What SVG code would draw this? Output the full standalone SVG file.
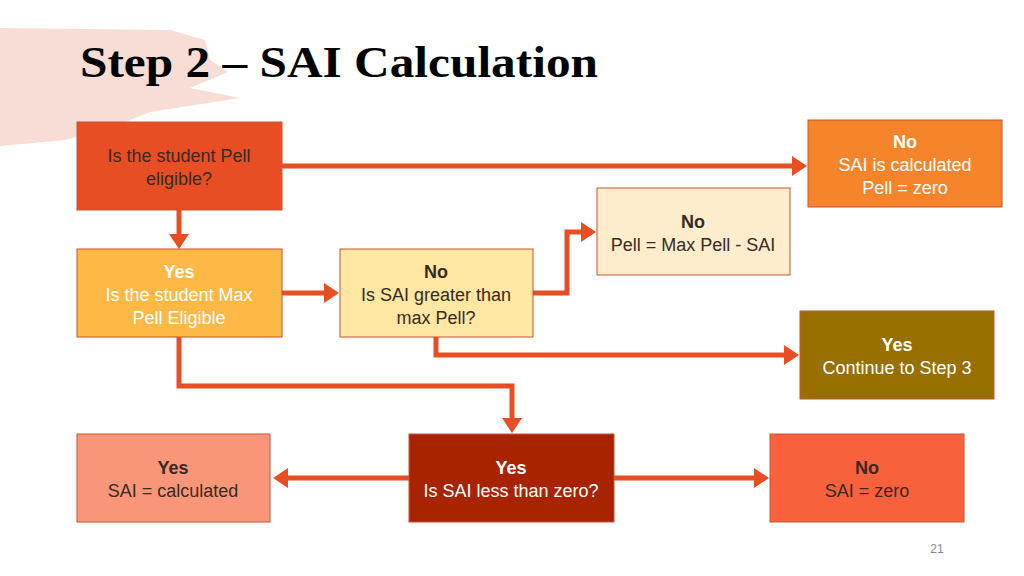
<svg xmlns="http://www.w3.org/2000/svg" width="1024" height="576" viewBox="0 0 1024 576">
<defs>
<marker id="ah" markerWidth="4" markerHeight="4" refX="2.2" refY="2" orient="auto" markerUnits="strokeWidth"><path d="M0,0 L3,2 L0,4 Z" fill="#e84e23"/></marker>
</defs>
<style>
.b{stroke:#c9542e;stroke-width:1}
.t{font-family:"Century Gothic","Liberation Sans",sans-serif;font-size:18px;text-anchor:middle}
.w{fill:#fff}.d{fill:#3a2a20}
.c{fill:none;stroke:#e84e23;stroke-width:5;marker-end:url(#ah)}
</style>
<rect width="1024" height="576" fill="#fff"/>
<path d="M0,28 L170,30 L205,40 L210,60 L228,72 L190,88 L240,98 L150,112 L110,128 L65,140 L0,146 Z" fill="#f8dcd6"/>
<text x="80" y="77" font-family="Liberation Serif,serif" font-weight="bold" font-size="45" fill="#000" textLength="518" lengthAdjust="spacingAndGlyphs">Step 2 – SAI Calculation</text>
<g id="connectors">
<path class="c" d="M282,166 H803"/>
<path class="c" d="M179,210 V245"/>
<path class="c" d="M282,293 H335"/>
<path class="c" d="M533,293 H567 V232 H592"/>
<path class="c" d="M436,337 V355 H795"/>
<path class="c" d="M179,337 V386 H512 V429"/>
<path class="c" d="M409,478 H277"/>
<path class="c" d="M614,478 H765"/>
</g>
<g id="n1"><rect class="b" x="77" y="122" width="205" height="88" fill="#e84e23"/><text class="t d" x="179" y="162">Is the student Pell</text><text class="t d" x="179" y="185">eligible?</text></g>
<g id="n2"><rect class="b" x="808" y="120" width="194" height="87" fill="#f5842a"/><text class="t w" x="905" y="148" font-weight="bold">No</text><text class="t w" x="905" y="171">SAI is calculated</text><text class="t w" x="905" y="194">Pell = zero</text></g>
<g id="n3"><rect class="b" x="597" y="188" width="193" height="87" fill="#fdedcc"/><text class="t d" x="693" y="228" font-weight="bold">No</text><text class="t d" x="693" y="251">Pell = Max Pell - SAI</text></g>
<g id="n4"><rect class="b" x="77" y="249" width="205" height="88" fill="#fdb845"/><text class="t w" x="179" y="278" font-weight="bold">Yes</text><text class="t w" x="179" y="301">Is the student Max</text><text class="t w" x="179" y="324">Pell Eligible</text></g>
<g id="n5"><rect class="b" x="340" y="249" width="193" height="88" fill="#fee6a3"/><text class="t d" x="436" y="278" font-weight="bold">No</text><text class="t d" x="436" y="301">Is SAI greater than</text><text class="t d" x="436" y="324">max Pell?</text></g>
<g id="n6"><rect class="b" x="800" y="311" width="194" height="88" fill="#977000"/><text class="t w" x="897" y="351" font-weight="bold">Yes</text><text class="t w" x="897" y="374">Continue to Step 3</text></g>
<g id="n7"><rect class="b" x="77" y="434" width="193" height="88" fill="#f9967a"/><text class="t d" x="173" y="474" font-weight="bold">Yes</text><text class="t d" x="173" y="497">SAI = calculated</text></g>
<g id="n8"><rect class="b" x="409" y="434" width="205" height="88" fill="#a82300"/><text class="t w" x="511" y="474" font-weight="bold">Yes</text><text class="t w" x="511" y="497">Is SAI less than zero?</text></g>
<g id="n9"><rect class="b" x="770" y="434" width="194" height="88" fill="#f9603c"/><text class="t d" x="867" y="474" font-weight="bold">No</text><text class="t d" x="867" y="497">SAI = zero</text></g>
<text x="937" y="553" font-family="Liberation Sans,sans-serif" font-size="12" fill="#888" text-anchor="middle">21</text>
</svg>
